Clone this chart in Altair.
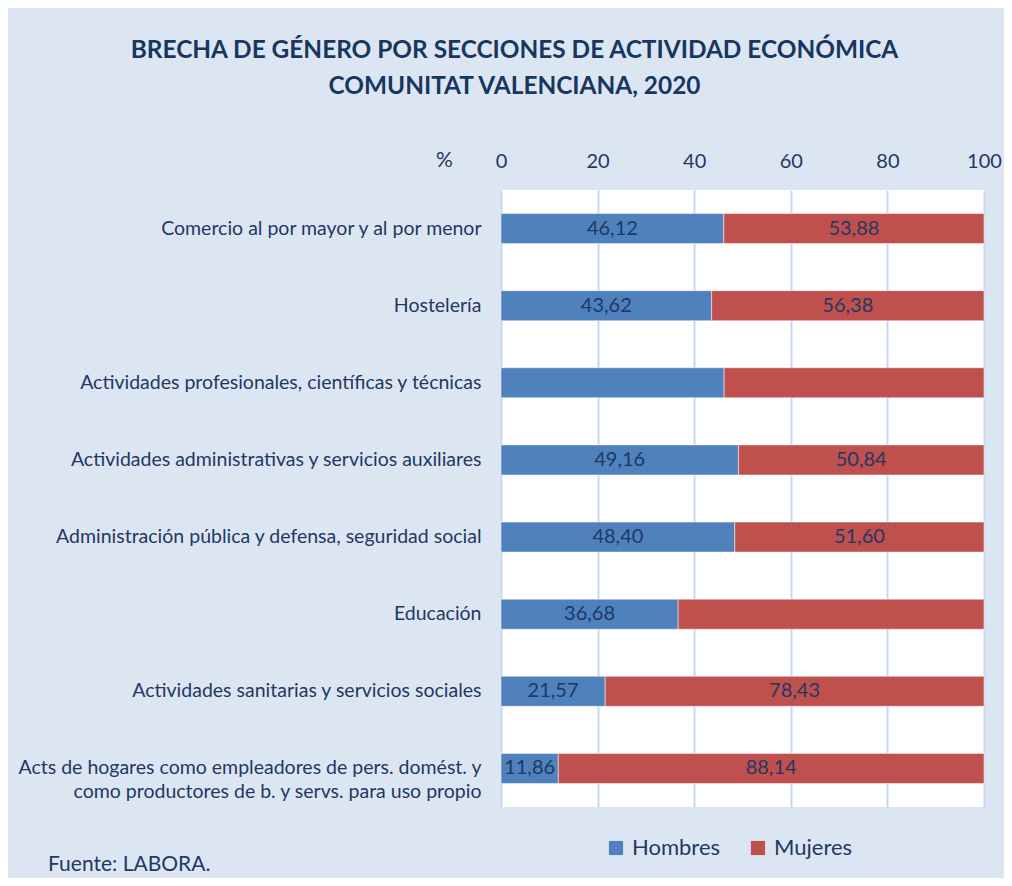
import altair as alt
import pandas as pd

categories = [
    "Comercio al por mayor y al por menor",
    "Hostelería",
    "Actividades profesionales, científicas y técnicas",
    "Actividades administrativas y servicios auxiliares",
    "Administración pública y defensa, seguridad social",
    "Educación",
    "Actividades sanitarias y servicios sociales",
    "Acts de hogares como empleadores de pers. domést. y|como productores de b. y servs. para uso propio",
]
hombres = [46.12, 43.62, 46.20, 49.16, 48.40, 36.68, 21.57, 11.86]
mujeres = [53.88, 56.38, 53.80, 50.84, 51.60, 63.32, 78.43, 88.14]
hombres_lbl = ["46,12", "43,62", "", "49,16", "48,40", "36,68", "21,57", "11,86"]
mujeres_lbl = ["53,88", "56,38", "", "50,84", "51,60", "", "78,43", "88,14"]
series = ["Hombres", "Mujeres"]
ticks = [0, 20, 40, 60, 80, 100]

rows = []
for i, c in enumerate(categories):
    rows.append({"cat": c, "sexo": "Hombres", "valor": hombres[i], "lbl": hombres_lbl[i]})
    rows.append({"cat": c, "sexo": "Mujeres", "valor": mujeres[i], "lbl": mujeres_lbl[i]})
df = pd.DataFrame(rows)

TXT = "#1f3864"
FONT = "Lato"

xaxis = alt.Axis(
    orient="top", values=ticks, title="%", titleAngle=0, titleX=-57, titleY=-30,
    titleBaseline="middle", titleAlign="center", titleFontSize=21, titleFontWeight="normal",
    titleColor=TXT, labelFontSize=20, labelColor=TXT, labelPadding=19, labelFlush=False,
    ticks=False, tickSize=0, domain=False, grid=True, gridColor="#c6d9f1", gridWidth=2,
)
xscale = alt.Scale(domain=[0, 100], nice=False)
yenc = alt.Y(
    "cat:N", sort=categories, title=None,
    scale=alt.Scale(paddingInner=0.61, paddingOuter=0.305),
    axis=alt.Axis(labelFontSize=19.5, labelColor=TXT, labelPadding=20, ticks=False,
                  domain=False, labelLimit=700,
                  labelExpr="split(datum.label, '|')", labelLineHeight=24),
)

base = alt.Chart(df)

bars = base.mark_bar(stroke="white", strokeWidth=0.5).encode(
    x=alt.X("valor:Q", stack="zero", scale=xscale, axis=xaxis),
    y=yenc,
    color=alt.Color(
        "sexo:N", scale=alt.Scale(domain=series, range=["#4f81bd", "#c0504d"]),
        legend=alt.Legend(
            title=None, orient="none", legendX=104, legendY=647, direction="horizontal",
            symbolType="square", symbolSize=200, symbolStrokeWidth=0, labelFontSize=22,
            labelColor=TXT, labelOffset=5, columnPadding=26,
        ),
    ),
    order=alt.Order("sexo:N", sort="ascending"),
)

labels = base.transform_stack(
    stack="valor", groupby=["cat"], as_=["x0", "x1"], sort=[alt.SortField("sexo", order="ascending")]
).transform_calculate(
    mid="(datum.x0 + datum.x1) / 2"
).mark_text(fontSize=20, color=TXT, baseline="middle").encode(
    x=alt.X("mid:Q", scale=xscale, axis=xaxis),
    y=yenc,
    text="lbl:N",
)

source = alt.Chart(pd.DataFrame({"t": ["Fuente: LABORA."]})).mark_text(
    align="left", baseline="middle", fontSize=21, color=TXT
).encode(text="t:N", x=alt.value(-453), y=alt.value(675))

chart = alt.layer(bars, labels, source).properties(
    width=483, height=617,
    autosize=alt.AutoSizeParams(type="none"),
    padding={"left": 493, "top": 182, "right": 20, "bottom": 71},
    background="#dce6f2",
    title=alt.TitleParams(
        text=["BRECHA DE GÉNERO POR SECCIONES DE ACTIVIDAD ECONÓMICA", "COMUNITAT VALENCIANA, 2020"],
        fontSize=24.4, fontWeight="bold", color="#17375e", anchor="middle", frame="group",
        dx=-228, offset=50, lineHeight=36, font=FONT,
    ),
).configure(font=FONT).configure_view(fill="white", stroke=None)

chart.save("out.html", embed_options={"renderer": "svg", "actions": False})
